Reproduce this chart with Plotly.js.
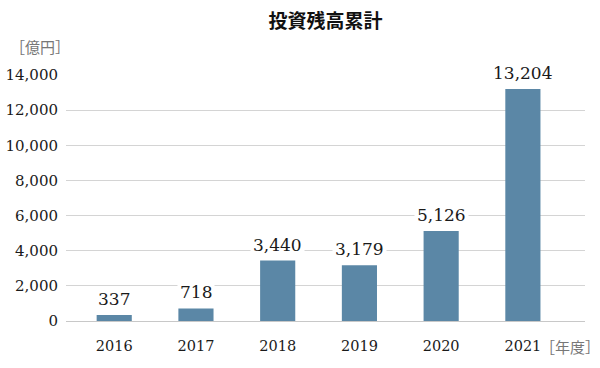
<!DOCTYPE html>
<html>
<head>
<meta charset="utf-8">
<script src="https://cdn.plot.ly/plotly-3.0.1.min.js"></script>
<style>html,body{margin:0;padding:0;background:#fff;}#chart{width:600px;height:368px;}</style>
</head>
<body>
<div id="chart"></div>
<script>
const years = ["2016", "2017", "2018", "2019", "2020", "2021"];
const balances = [337, 718, 3440, 3179, 5126, 13204];
const yTicks = [0, 2000, 4000, 6000, 8000, 10000, 12000, 14000];
const titleText = "投資残高累計";
const yUnit = "［億円］";
const xUnit = "［年度］";

const serif = "'DejaVu Serif', 'Liberation Serif', serif";
const barColor = "#5b87a6";

function fmt(v) { return String(v).replace(/\B(?=(\d{3})+(?!\d))/g, ","); }

const labelAnnotations = balances.map((v, i) => ({
  x: i, y: v, xref: "x", yref: "y",
  text: fmt(v),
  showarrow: false, yanchor: "bottom", yshift: 3,
  bgcolor: "#ffffff", borderpad: 2,
  font: {family: serif, size: 17, color: "#1a1a1a"}
}));

const data = [{
  type: "bar",
  x: years,
  y: balances,
  width: 0.43,
  marker: {color: barColor},
  hoverinfo: "x+y"
}];

const layout = {
  width: 600, height: 368,
  margin: {l: 66, r: 15, t: 75, b: 47},
  paper_bgcolor: "#fff", plot_bgcolor: "#fff",
  showlegend: false,
  title: {
    text: titleText, x: 0.5, xref: "paper", xanchor: "center",
    y: 1 - 21/368, yref: "container", yanchor: "middle",
    font: {family: "'Noto Sans CJK JP', sans-serif", size: 19, color: "#111", weight: "bold"}
  },
  xaxis: {
    type: "category",
    range: [-0.59, 5.76],
    showgrid: false, zeroline: false, showline: false, ticks: "",
    ticklabelstandoff: 14,
    tickfont: {family: serif, size: 14.5, color: "#1a1a1a"},
    fixedrange: true
  },
  yaxis: {
    range: [0, 14000],
    tickvals: yTicks,
    ticktext: yTicks.map(fmt),
    showgrid: true, gridcolor: "#d4d4d4", gridwidth: 1,
    zeroline: true, zerolinecolor: "#c8c8c8", zerolinewidth: 1,
    showline: false, ticks: "",
    ticklabelstandoff: 7,
    tickfont: {family: serif, size: 15, color: "#1a1a1a"},
    fixedrange: true
  },
  annotations: labelAnnotations.concat([
    {xref: "paper", yref: "paper", x: -0.051, y: 1, yshift: 29, xanchor: "center", yanchor: "middle",
     text: yUnit, showarrow: false, font: {family: "'Noto Sans CJK JP', sans-serif", size: 15, color: "#777"}},
    {xref: "paper", yref: "paper", x: 1.0, xshift: -47, y: 0, yshift: -25, xanchor: "left", yanchor: "middle",
     text: xUnit, showarrow: false, font: {family: "'Noto Sans CJK JP', sans-serif", size: 15, color: "#777"}}
  ])
};

Plotly.newPlot("chart", data, layout, {displayModeBar: false, staticPlot: true});
</script>
</body>
</html>
